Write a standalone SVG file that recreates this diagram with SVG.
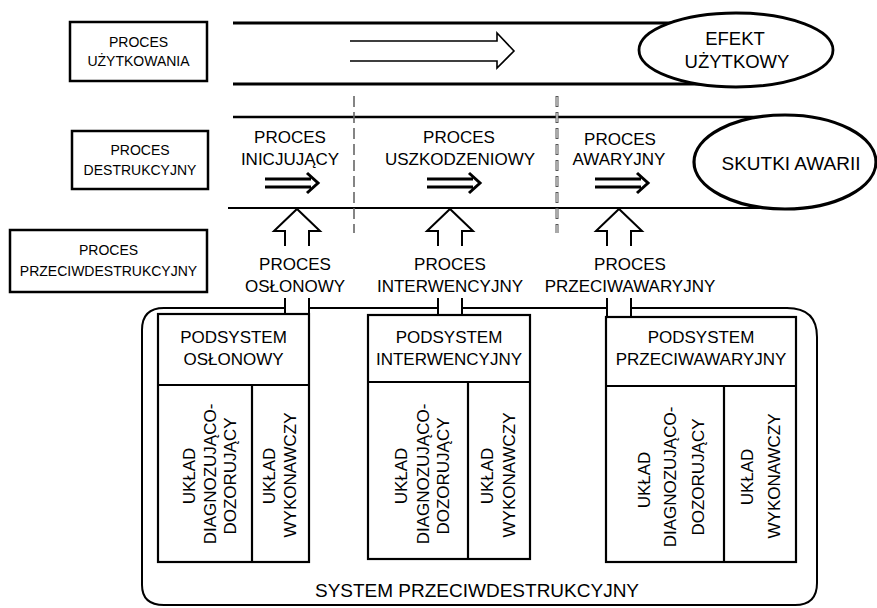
<svg xmlns="http://www.w3.org/2000/svg" width="877" height="608" viewBox="0 0 877 608">
<style>
text{font-family:"Liberation Sans",Arial,sans-serif;fill:#000}
.lb{font-size:14px;text-anchor:middle}
.t{font-size:17px;text-anchor:middle}
.box{fill:#fff;stroke:#000;stroke-width:2.5}
.sub{fill:#fff;stroke:#000;stroke-width:2.2}
.ln{stroke:#000;fill:none}
.dash{stroke:#666;stroke-width:1.6;stroke-dasharray:11 5;fill:none}
</style>
<rect width="877" height="608" fill="#fff"/>
<g id="connectors">
  <!-- top band -->
  <line class="ln" x1="233" y1="23" x2="700" y2="23" stroke-width="3"/>
  <line class="ln" x1="233" y1="84" x2="700" y2="84" stroke-width="3"/>
  <path class="ln" stroke-width="1.6" d="M350,41 H497 V33 L514,51 L497,68 V61 H350"/>
  <!-- second band -->
  <line class="ln" x1="233" y1="117" x2="760" y2="117" stroke-width="2.5"/>
  <line class="ln" x1="228" y1="208" x2="760" y2="208" stroke-width="2"/>
  <!-- dashed separators -->
  <line class="dash" x1="354" y1="96" x2="354" y2="233"/>
  <line x1="557" y1="96" x2="557" y2="233" stroke="#555" stroke-width="3" stroke-dasharray="11 5" fill="none"/>
  <line x1="557" y1="96" x2="557" y2="233" stroke="#fff" stroke-width="1" stroke-dasharray="9 7" stroke-dashoffset="-1" fill="none"/>
  <!-- double arrows in band -->
  <path class="ln" stroke-width="3" d="M265,179 H311 M265,187 H311 M307,173 L318,183 L307,193"/>
  <path class="ln" stroke-width="3" d="M427,179 H473 M427,187 H473 M469,173 L480,183 L469,193"/>
  <path class="ln" stroke-width="3" d="M595,179 H641 M595,187 H641 M637,173 L648,183 L637,193"/>
  <!-- up block arrows -->
  <path class="ln" stroke-width="2" d="M285,246 V231 H274 L297,209 L320,231 H309 V246"/>
  <path class="ln" stroke-width="2" d="M438,246 V231 H427 L450,209 L473,231 H462 V246"/>
  <path class="ln" stroke-width="2" d="M607,246 V231 H596 L619,209 L642,231 H631 V246"/>
  <!-- lower shafts -->
  <path class="ln" stroke-width="2" d="M285,298 V314 M309,298 V314 M438,298 V315 M462,298 V315 M607,298 V317 M631,298 V317"/>
</g>
<g id="container">
  <path class="ln" stroke-width="2" d="M285,308 H164 Q142,308 142,330 V585 Q142,605 164,605 H795 Q817,605 817,583 V337 Q817,308 787,308 H631 M607,308 H462 M438,308 H309"/>
  <text x="477" y="597" style="font-size:19px;text-anchor:middle">SYSTEM PRZECIWDESTRUKCYJNY</text>
</g>
<g id="proces-uzytkowania">
  <rect class="box" x="70" y="22" width="137" height="59"/>
  <text class="lb" x="138.5" y="47">PROCES</text>
  <text class="lb" x="138.5" y="66">UŻYTKOWANIA</text>
</g>
<g id="proces-destrukcyjny">
  <rect class="box" x="72" y="131" width="136" height="58"/>
  <text class="lb" x="140" y="155">PROCES</text>
  <text class="lb" x="140" y="175">DESTRUKCYJNY</text>
</g>
<g id="proces-przeciwdestrukcyjny">
  <rect class="box" x="10" y="230" width="197" height="62"/>
  <text class="lb" x="108.5" y="255">PROCES</text>
  <text class="lb" x="108.5" y="276">PRZECIWDESTRUKCYJNY</text>
</g>
<g id="efekt-uzytkowy">
  <ellipse cx="736" cy="50" rx="97" ry="37" fill="#fff" stroke="#000" stroke-width="2.8"/>
  <text x="735" y="45" style="font-size:18.5px;text-anchor:middle">EFEKT</text>
  <text x="737" y="68" style="font-size:18.5px;text-anchor:middle">UŻYTKOWY</text>
</g>
<g id="skutki-awarii">
  <ellipse cx="785" cy="162" rx="91" ry="47" fill="#fff" stroke="#000" stroke-width="3.2"/>
  <text x="791" y="170" style="font-size:19px;text-anchor:middle">SKUTKI AWARII</text>
</g>
<g id="proces-inicjujacy">
  <text class="t" x="290" y="143">PROCES</text>
  <text class="t" x="290" y="165">INICJUJĄCY</text>
</g>
<g id="proces-uszkodzeniowy">
  <text class="t" x="459" y="143">PROCES</text>
  <text class="t" x="460" y="165">USZKODZENIOWY</text>
</g>
<g id="proces-awaryjny">
  <text class="t" x="620" y="145">PROCES</text>
  <text class="t" x="619" y="165">AWARYJNY</text>
</g>
<g id="proces-oslonowy">
  <text class="t" x="295" y="270">PROCES</text>
  <text class="t" x="295" y="292">OSŁONOWY</text>
</g>
<g id="proces-interwencyjny">
  <text class="t" x="450" y="270">PROCES</text>
  <text class="t" x="450" y="292">INTERWENCYJNY</text>
</g>
<g id="proces-przeciwawaryjny">
  <text class="t" x="630" y="270">PROCES</text>
  <text class="t" x="630" y="292">PRZECIWAWARYJNY</text>
</g>
<g id="podsystem-oslonowy">
  <rect class="sub" x="158" y="314" width="151" height="248"/>
  <line class="ln" stroke-width="2.2" x1="158" y1="385" x2="309" y2="385"/>
  <line class="ln" stroke-width="2.2" x1="252" y1="385" x2="252" y2="562"/>
  <text class="t" x="233.5" y="343">PODSYSTEM</text>
  <text class="t" x="233.5" y="365">OSŁONOWY</text>
  <text class="t" transform="translate(195,476) rotate(-90)">UKŁAD</text>
  <text class="t" transform="translate(216,474) rotate(-90)">DIAGNOZUJĄCO-</text>
  <text class="t" transform="translate(236,476) rotate(-90)">DOZORUJĄCY</text>
  <text class="t" transform="translate(275,476) rotate(-90)">UKŁAD</text>
  <text class="t" transform="translate(296,475) rotate(-90)">WYKONAWCZY</text>
</g>
<g id="podsystem-interwencyjny">
  <rect class="sub" x="368" y="315" width="162" height="244"/>
  <line class="ln" stroke-width="2.2" x1="368" y1="382" x2="530" y2="382"/>
  <line class="ln" stroke-width="2.2" x1="468" y1="382" x2="468" y2="559"/>
  <text class="t" x="449" y="343">PODSYSTEM</text>
  <text class="t" x="449" y="365">INTERWENCYJNY</text>
  <text class="t" transform="translate(407,476) rotate(-90)">UKŁAD</text>
  <text class="t" transform="translate(429,474) rotate(-90)">DIAGNOZUJĄCO-</text>
  <text class="t" transform="translate(449,476) rotate(-90)">DOZORUJĄCY</text>
  <text class="t" transform="translate(493,476) rotate(-90)">UKŁAD</text>
  <text class="t" transform="translate(515,475) rotate(-90)">WYKONAWCZY</text>
</g>
<g id="podsystem-przeciwawaryjny">
  <rect class="sub" x="606" y="317" width="190" height="245"/>
  <line class="ln" stroke-width="2.2" x1="606" y1="386" x2="796" y2="386"/>
  <line class="ln" stroke-width="2.2" x1="724" y1="386" x2="724" y2="562"/>
  <text class="t" x="701" y="343">PODSYSTEM</text>
  <text class="t" x="701" y="365">PRZECIWAWARYJNY</text>
  <text class="t" transform="translate(650,480) rotate(-90)">UKŁAD</text>
  <text class="t" transform="translate(676,477) rotate(-90)">DIAGNOZUJĄCO-</text>
  <text class="t" transform="translate(704,477) rotate(-90)">DOZORUJĄCY</text>
  <text class="t" transform="translate(753,477) rotate(-90)">UKŁAD</text>
  <text class="t" transform="translate(780,476) rotate(-90)">WYKONAWCZY</text>
</g>
</svg>
